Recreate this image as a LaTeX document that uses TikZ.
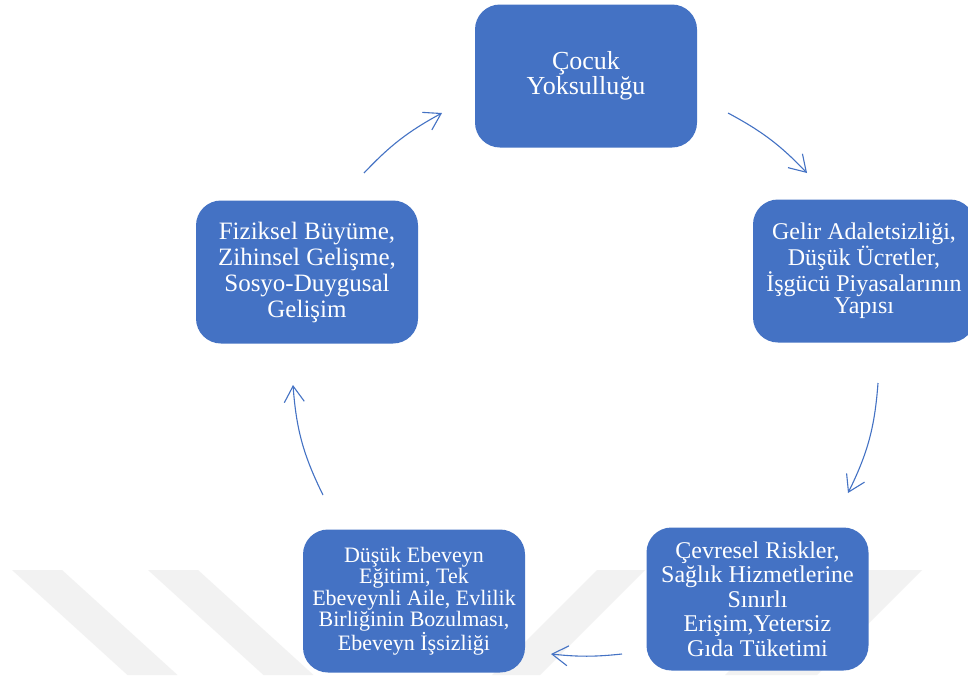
\documentclass[tikz,border=0pt]{standalone}
\usepackage{fontspec}
\setmainfont{Liberation Serif}
\usetikzlibrary{arrows.meta}
\definecolor{boxblue}{HTML}{4472C4}
\definecolor{wmgray}{RGB}{242,242,242}
\begin{document}
\begin{tikzpicture}[x=1pt,y=-1pt,
  cbox/.style={rectangle, rounded corners=25pt, fill=boxblue, text=white,
    minimum width=222pt, minimum height=143pt, inner sep=0pt, align=center},
  cyc/.style={draw=boxblue, line width=1.1pt,
    -{Straight Barb[length=16pt,width=20pt]}},
  wm/.style={fill=wmgray, draw=none}]
\clip (0,0) rectangle (968,675);
\fill[white] (0,0) rectangle (968,675);
% faint watermark stripes
\path[wm] (12,570) -- (62,570) -- (177.5,675) -- (127.5,675) -- cycle;
\path[wm] (148,570) -- (198,570) -- (313.5,675) -- (263.5,675) -- cycle;
\path[wm] (597,570) -- (645,570) -- (540,675) -- (492,675) -- cycle;
\path[wm] (830,570) -- (922,570) -- (817,675) -- (725,675) -- cycle;
% boxes
\node[cbox, font=\fontsize{26}{25}\selectfont] (pov) at (586,76) {Çocuk\\Yoksulluğu};
\node[cbox, font=\fontsize{24}{22.5}\selectfont] (inc) at (864,271) {Gelir Adaletsizliği,\\Düşük Ücretler,\\İşgücü Piyasalarının\\Yapısı};
\node[cbox, font=\fontsize{24}{24.5}\selectfont] (env) at (757.5,599) {Çevresel Riskler,\\Sağlık Hizmetlerine\\Sınırlı\\Erişim,Yetersiz\\Gıda Tüketimi};
\node[cbox, font=\fontsize{22}{21.5}\selectfont] (par) at (414,601) {Düşük Ebeveyn\\Eğitimi, Tek\\Ebeveynli Aile, Evlilik\\Birliğinin Bozulması,\\Ebeveyn İşsizliği};
\node[cbox, font=\fontsize{25}{26}\selectfont] (dev) at (307,272) {Fiziksel Büyüme,\\Zihinsel Gelişme,\\Sosyo-Duygusal\\Gelişim};
% arrow end points
\coordinate (a1s) at (364,173); \coordinate (a1e) at (442,113);
\coordinate (a2s) at (728,113); \coordinate (a2e) at (807,173);
\coordinate (a3s) at (878,383); \coordinate (a3e) at (848,493);
\coordinate (a4s) at (622,654); \coordinate (a4e) at (551,654);
\coordinate (a5s) at (323,495); \coordinate (a5e) at (293,385);
\draw[cyc] (a1s) to[bend left=9] (a1e);
\draw[cyc] (a2s) to[bend left=9] (a2e);
\draw[cyc] (a3s) to[bend left=11] (a3e);
\draw[cyc] (a4s) to[bend left=6] (a4e);
\draw[cyc] (a5s) to[bend left=11] (a5e);
\end{tikzpicture}
\end{document}
